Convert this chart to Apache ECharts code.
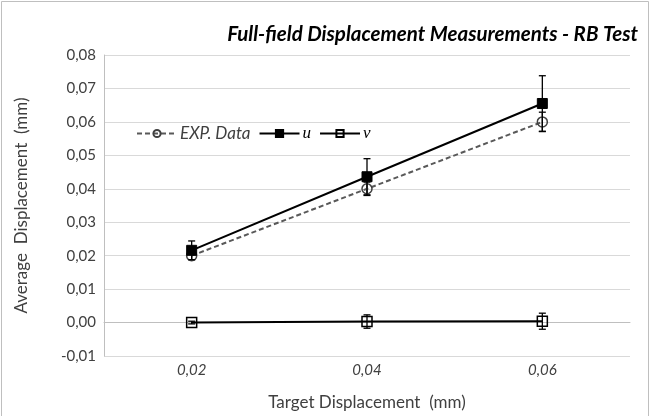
<!DOCTYPE html>
<html>
<head>
<meta charset="utf-8">
<script src="https://cdn.jsdelivr.net/npm/echarts@6/dist/echarts.min.js"></script>
<style>html,body{margin:0;padding:0;background:#fff}#c{width:651px;height:416px}</style>
</head>
<body>
<div id="c"></div>
<script>
var categories = ['0,02', '0,04', '0,06'];
var expData = [0.020, 0.040, 0.060];
var expErr = [0.0012, 0.0020, 0.0029];
var uData = [0.0216, 0.0436, 0.0655];
var uErr = [0.0028, 0.0054, 0.0083];
var vData = [0.0000, 0.0003, 0.0004];
var vErr = [0.0004, 0.0020, 0.0024];
var yTicks = { min: -0.01, max: 0.08, interval: 0.01 };

var FONT = 'Lato';
var chart = echarts.init(document.getElementById('c'), null, { renderer: 'canvas' });

function errSeries(name, vals, errs, z) {
  return {
    type: 'custom',
    name: name + '_err',
    z: z,
    silent: true,
    data: vals.map(function (v, i) { return [i, v, errs[i]]; }),
    renderItem: function (params, api) {
      var i = api.value(0), v = api.value(1), e = api.value(2);
      var top = api.coord([i, v + e]);
      var bot = api.coord([i, v - e]);
      var hw = 3.5;
      var st = { stroke: '#000', lineWidth: 1.3 };
      return {
        type: 'group',
        children: [
          { type: 'line', shape: { x1: top[0], y1: top[1], x2: bot[0], y2: bot[1] }, style: st },
          { type: 'line', shape: { x1: top[0] - hw, y1: top[1], x2: top[0] + hw, y2: top[1] }, style: st },
          { type: 'line', shape: { x1: bot[0] - hw, y1: bot[1], x2: bot[0] + hw, y2: bot[1] }, style: st }
        ]
      };
    }
  };
}

var option = {
  animation: false,
  backgroundColor: '#fff',
  title: {
    text: 'Full-field Displacement Measurements - RB Test',
    right: 8,
    top: 19,
    textStyle: { fontFamily: FONT, fontSize: 20.5, fontWeight: 'bold', fontStyle: 'italic', color: '#000' }
  },
  graphic: [{
    type: 'rect',
    shape: { x: 1.5, y: 1.5, width: 647, height: 440 },
    style: { fill: 'none', stroke: '#bfbfbf', lineWidth: 1 },
    silent: true
  }],
  legend: {
    left: 131,
    top: 120,
    itemWidth: 40,
    itemHeight: 9,
    itemGap: 8,
    textStyle: { fontFamily: FONT, fontSize: 17, fontStyle: 'italic', color: '#404040', padding: [0, 0, 0, -2] },
    data: [
      { name: 'EXP. Data' },
      { name: 'u', textStyle: { fontFamily: 'Liberation Serif', fontSize: 17, fontStyle: 'italic', color: '#000' } },
      { name: 'v', textStyle: { fontFamily: 'Liberation Serif', fontSize: 17, fontStyle: 'italic', color: '#000' } }
    ]
  },
  grid: { left: 104, right: 21, top: 55, bottom: 56 },
  xAxis: {
    type: 'category',
    data: categories,
    boundaryGap: true,
    name: 'Target Displacement  (mm)',
    nameLocation: 'middle',
    nameGap: 38,
    nameTextStyle: { fontFamily: FONT, fontSize: 17, color: '#404040' },
    axisLine: { lineStyle: { color: '#bfbfbf' } },
    axisTick: { show: false },
    axisLabel: { fontFamily: FONT, fontSize: 15, fontStyle: 'italic', color: '#404040', margin: 7 },
    splitLine: { show: false }
  },
  yAxis: {
    type: 'value',
    min: yTicks.min,
    max: yTicks.max,
    interval: yTicks.interval,
    name: 'Average  Displacement  (mm)',
    nameLocation: 'middle',
    nameGap: 74,
    nameTextStyle: { fontFamily: FONT, fontSize: 17, color: '#404040' },
    axisLine: { show: true, lineStyle: { color: '#bfbfbf' } },
    axisTick: { show: false },
    axisLabel: {
      fontFamily: FONT, fontSize: 15, color: '#404040', margin: 8,
      formatter: function (v) { return v.toFixed(2).replace('.', ',').replace('-0,00', '0,00'); }
    },
    splitLine: { lineStyle: { color: '#d9d9d9', width: 1 } }
  },
  series: [
    errSeries('EXP. Data', expData, expErr, 1),
    {
      name: 'EXP. Data', type: 'line', data: expData, z: 2,
      symbol: 'circle', symbolSize: 10,
      lineStyle: { color: '#595959', width: 2, type: [5, 3] },
      itemStyle: { color: 'rgba(255,255,255,0)', borderColor: '#404040', borderWidth: 1.5 }
    },
    errSeries('u', uData, uErr, 3),
    {
      name: 'u', type: 'line', data: uData, z: 4,
      symbol: 'rect', symbolSize: 10,
      lineStyle: { color: '#000', width: 2 },
      itemStyle: { color: '#000', borderColor: '#000', borderWidth: 1 }
    },
    errSeries('v', vData, vErr, 5),
    {
      name: 'v', type: 'line', data: vData, z: 6,
      symbol: 'rect', symbolSize: 10,
      lineStyle: { color: '#000', width: 2 },
      itemStyle: { color: 'rgba(255,255,255,0)', borderColor: '#000', borderWidth: 1.5 }
    }
  ]
};
chart.setOption(option);
</script>
</body>
</html>
